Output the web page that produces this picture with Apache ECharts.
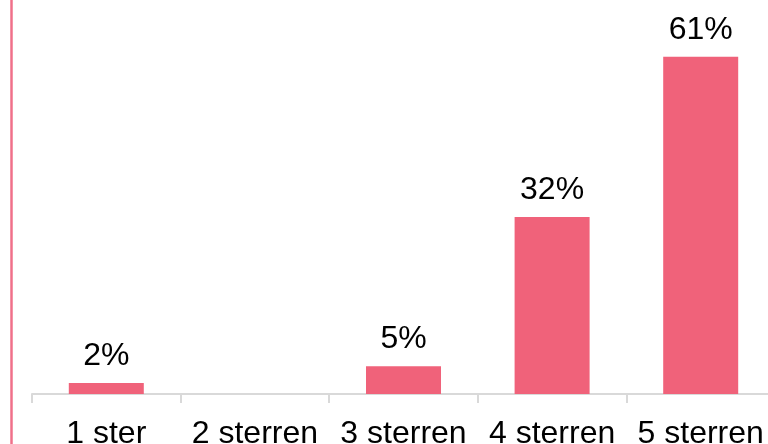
<!DOCTYPE html>
<html>
<head>
<meta charset="utf-8">
<script src="https://cdn.jsdelivr.net/npm/echarts@6/dist/echarts.min.js"></script>
<style>
  html, body { margin: 0; padding: 0; background: #fff; }
  #chart { width: 768px; height: 444px; }
</style>
</head>
<body>
<div id="chart"></div>
<script>
// Star-rating distribution
const categories = ['1 ster', '2 sterren', '3 sterren', '4 sterren', '5 sterren'];
const shares = [2, null, 5, 32, 61];

const barColor = '#F0627A';
const fontFamily = 'Liberation Sans, Arial, sans-serif';

const chart = echarts.init(document.getElementById('chart'), null, { renderer: 'canvas' });
chart.setOption({
  animation: false,
  backgroundColor: '#fff',
  grid: { left: 32, width: 743, top: 7, height: 387, outerBoundsMode: 'none', containLabel: false },
  xAxis: {
    type: 'category',
    data: categories,
    axisLine: { show: true, lineStyle: { color: '#d9d9d9', width: 2 } },
    axisTick: { show: true, length: 9, lineStyle: { color: '#d9d9d9', width: 2 } },
    axisLabel: { color: '#000', fontSize: 32, fontFamily: fontFamily, margin: 24, interval: 0 }
  },
  yAxis: {
    type: 'value',
    min: 0,
    max: 70,
    show: false,
    splitLine: { show: false }
  },
  series: [{
    type: 'bar',
    data: shares,
    barWidth: 75,
    itemStyle: { color: barColor },
    label: {
      show: true,
      position: 'top',
      distance: 11,
      color: '#000',
      fontSize: 32,
      fontFamily: fontFamily,
      formatter: p => p.value + '%'
    }
  }],
  graphic: [{
    type: 'line',
    shape: { x1: 11.5, y1: 0, x2: 11.5, y2: 444 },
    style: { stroke: '#F0708A', lineWidth: 2.5 }
  }]
});
</script>
</body>
</html>
